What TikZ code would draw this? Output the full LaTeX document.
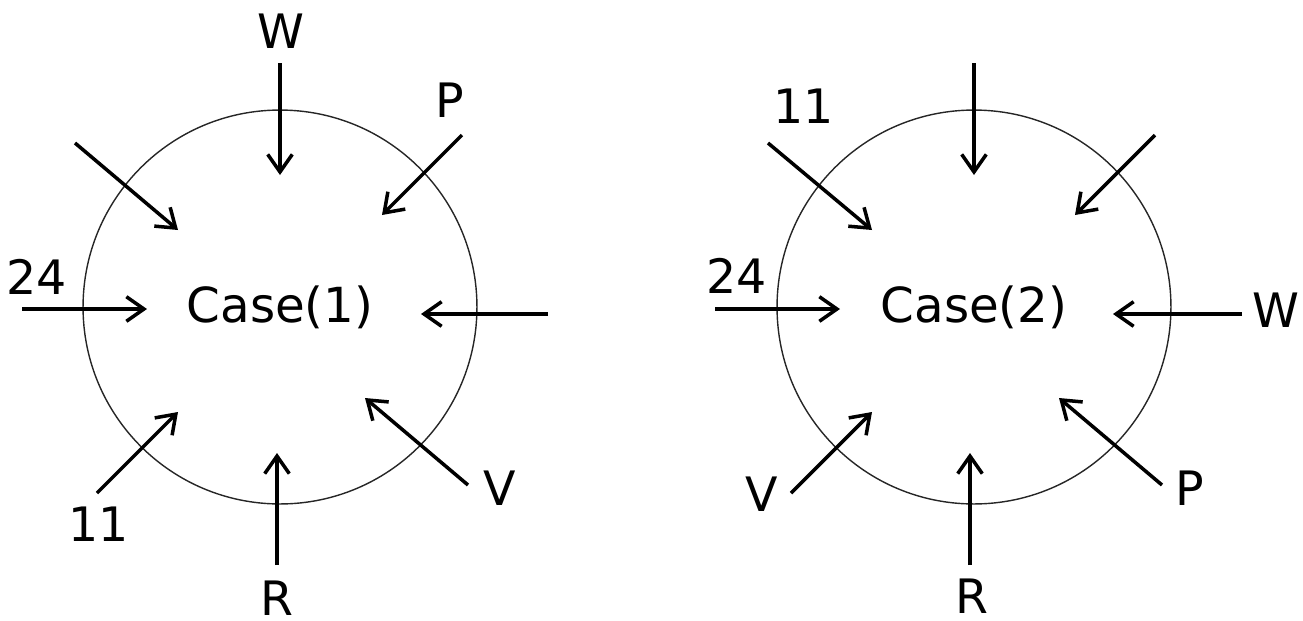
\documentclass[tikz,border=0pt]{standalone}
\usepackage{fontspec}
\setmainfont{DejaVu Sans}
\usetikzlibrary{arrows.meta}

\tikzset{
  arr/.style={line width=2pt,-{Straight Barb[length=10pt,width=14pt,line width=2pt]}},
  ring/.style={circle,draw=black!85,line width=0.8pt,minimum size=7.88cm,inner sep=0pt,
    font=\fontsize{27.5}{32}\selectfont},
  lbl/.style={inner sep=0pt,font=\fontsize{27}{32}\selectfont}
}

\begin{document}
\begin{tikzpicture}[x=0.02cm,y=-0.02cm]
\useasboundingbox (0,0) rectangle (1303,620);
% the two cases
\node[ring] (case1) at (280,307) {Case(1)};
\node[ring] (case2) at (974,307) {Case(2)};
% arrows, tail -> head
\foreach \n/\ax/\ay/\bx/\by in {
    w1/280/63/280/175, p1/462/135/382/215, nw1/75/143/178/230,
    tf1/22/309/147/309, e1/548/314/421/314, el1/97/493/178/412,
    r1/277/565/277/453, v1/468/485/365/398,
    n2/974/63/974/175, ne2/1155/135/1075/215, el2/768/143/872/230,
    tf2/715/309/840/309, w2/1242/314/1113/314, v2/791/493/872/412,
    r2/970/565/970/453, p2/1162/485/1059/398}
{
  \coordinate (\n-s) at (\ax,\ay);
  \coordinate (\n-e) at (\bx,\by);
  \draw[arr] (\n-s) -- (\n-e);
}
% labels
\foreach \n/\x/\y/\t in {
    lw1/281/31/W, lp1/450/100/P, ltf1/37/277/24, lel1/99/524/11,
    lr1/277/598/R, lv1/500/488/V,
    lel2/804/106/11, ltf2/737/276/24, lw2/1276/310/W, lv2/762/494/V,
    lr2/972/596/R, lp2/1190/488/P}
  \node[lbl] (\n) at (\x,\y) {\t};
\end{tikzpicture}
\end{document}
